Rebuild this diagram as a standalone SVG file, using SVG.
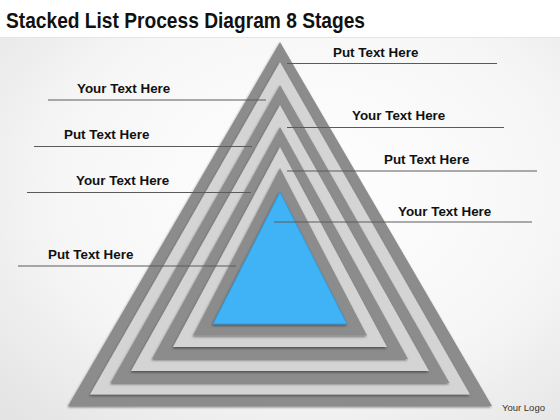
<svg xmlns="http://www.w3.org/2000/svg" width="560" height="420" viewBox="0 0 560 420">
  <defs>
    <radialGradient id="bg" cx="0.55" cy="0.45" r="0.75">
      <stop offset="0" stop-color="#ffffff"/>
      <stop offset="0.6" stop-color="#f6f6f6"/>
      <stop offset="1" stop-color="#e4e4e4"/>
    </radialGradient>
    <filter id="shadow" x="-10%" y="-10%" width="120%" height="120%">
      <feDropShadow dx="-0.6" dy="1.4" stdDeviation="1.1" flood-color="#000" flood-opacity="0.45"/>
    </filter>
    <style>
      .dark { fill: #8c8c8c; filter: url(#shadow); }
      .light { fill: #d4d4d4; filter: url(#shadow); }
      .blue { fill: #41b3f7; stroke: #2f95d6; stroke-width: 0.8; filter: url(#shadow); }
      .lbl { font-family: "Liberation Sans", Arial, sans-serif; font-weight: bold; font-size: 13.4px; fill: #111; }
      .lead { stroke: #5a5a5a; stroke-width: 1; fill: none; }
    </style>
  </defs>

  <rect x="0" y="0" width="560" height="420" fill="url(#bg)"/>
  <rect x="0" y="0" width="560" height="37" fill="#ffffff"/>
  <line x1="0" y1="37.5" x2="560" y2="37.5" stroke="#e4e4e4" stroke-width="1"/>

  <text id="title" x="6" y="27.5" font-family="'Liberation Sans', Arial, sans-serif" font-weight="bold" font-size="22" fill="#111" textLength="359" lengthAdjust="spacingAndGlyphs">Stacked List Process Diagram 8 Stages</text>

  <g id="layer-1"><polygon class="dark" points="280,42 68,406 492,406"/></g>
  <g id="layer-2"><polygon class="light" points="280,62 90,394.5 470,394.5"/></g>
  <g id="layer-3"><polygon class="dark" points="280,85 110.5,383 449.5,383"/></g>
  <g id="layer-4"><polygon class="light" points="280,105 131,371 429,371"/></g>
  <g id="layer-5"><polygon class="dark" points="280,127 152,359 408,359"/></g>
  <g id="layer-6"><polygon class="light" points="280,147 173,347 387,347"/></g>
  <g id="layer-7"><polygon class="dark" points="280,168 193,335.5 367,335.5"/></g>
  <g id="layer-8"><polygon class="blue" points="280,192 213,324 347,324"/></g>

  <g id="connectors">
    <line class="lead" x1="287" y1="63.5" x2="497" y2="63.5"/>
    <line class="lead" x1="287" y1="127.5" x2="504" y2="127.5"/>
    <line class="lead" x1="287" y1="171" x2="537" y2="171"/>
    <line class="lead" x1="274" y1="222" x2="532" y2="222"/>
    <line class="lead" x1="48" y1="100" x2="266" y2="100"/>
    <line class="lead" x1="34" y1="146.5" x2="252" y2="146.5"/>
    <line class="lead" x1="27" y1="192.5" x2="251" y2="192.5"/>
    <line class="lead" x1="18" y1="266" x2="236" y2="266"/>
  </g>

  <g id="label-r1"><text class="lbl" x="333" y="56.5">Put Text Here</text></g>
  <g id="label-r2"><text class="lbl" x="352" y="120">Your Text Here</text></g>
  <g id="label-r3"><text class="lbl" x="384" y="164">Put Text Here</text></g>
  <g id="label-r4"><text class="lbl" x="398" y="215.5">Your Text Here</text></g>
  <g id="label-l1"><text class="lbl" x="77" y="92.5">Your Text Here</text></g>
  <g id="label-l2"><text class="lbl" x="64" y="139">Put Text Here</text></g>
  <g id="label-l3"><text class="lbl" x="76" y="185">Your Text Here</text></g>
  <g id="label-l4"><text class="lbl" x="48" y="259">Put Text Here</text></g>

  <text id="logo" x="502" y="411" font-family="'Liberation Sans', Arial, sans-serif" font-size="9.5" fill="#333">Your Logo</text>
</svg>
